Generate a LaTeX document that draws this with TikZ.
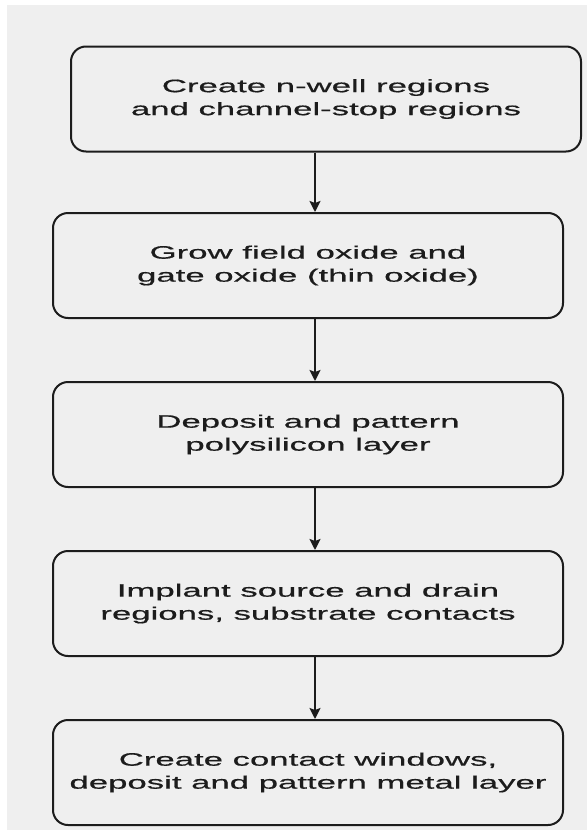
\documentclass[tikz,border=0pt]{standalone}
\usepackage{fontspec}
\setmainfont{Liberation Sans}
\newfontfamily\widesans[FakeStretch=1.93, FakeBold=0.6]{Liberation Sans}
\usetikzlibrary{positioning,arrows.meta}

\definecolor{paper}{HTML}{EFEFEF}
\definecolor{ink}{HTML}{1C1C1C}

\begin{document}
\begin{tikzpicture}[x = 1pt, y = -1pt]
	% Page and paper tone
	\useasboundingbox (0, 0) rectangle (587, 830);
	\fill[white] (0, 0) rectangle (587, 830);
	\fill[paper] (7, 5) rectangle (587, 830);

	% Box and arrow styles
	\tikzset{stepbox/.style = {draw = ink, line width = 2pt, rounded corners = 15pt,
			minimum width = 510pt, minimum height = 105pt, inner sep = 0pt,
			align = center, text = ink, font = \widesans\fontsize{18}{23}\selectfont},
		flow/.style = {-{Stealth[length = 11pt, width = 11pt, inset = 2pt]}, draw = ink, line width = 2pt}}

	% Process steps
	\node[stepbox] (nwell) at (326, 99) {Create n-well regions\\and channel-stop regions};
	\node[stepbox] (oxide) at (308, 265.5) {Grow field oxide and\\gate oxide (thin oxide)};
	\node[stepbox, below = 62pt of oxide] (poly) {Deposit and pattern\\polysilicon layer};
	\node[stepbox, below = 62pt of poly] (implant) {Implant source and drain\\regions, substrate contacts};
	\node[stepbox, below = 62pt of implant] (metal) {Create contact windows,\\deposit and pattern metal layer};

	% Arrows run down one line
	\coordinate (spine) at (315, 0);
	\draw[flow] (nwell.south -| spine) -- (oxide.north -| spine);
	\draw[flow] (oxide.south -| spine) -- (poly.north -| spine);
	\draw[flow] (poly.south -| spine) -- (implant.north -| spine);
	\draw[flow] (implant.south -| spine) -- (metal.north -| spine);

\end{tikzpicture}
\end{document}
